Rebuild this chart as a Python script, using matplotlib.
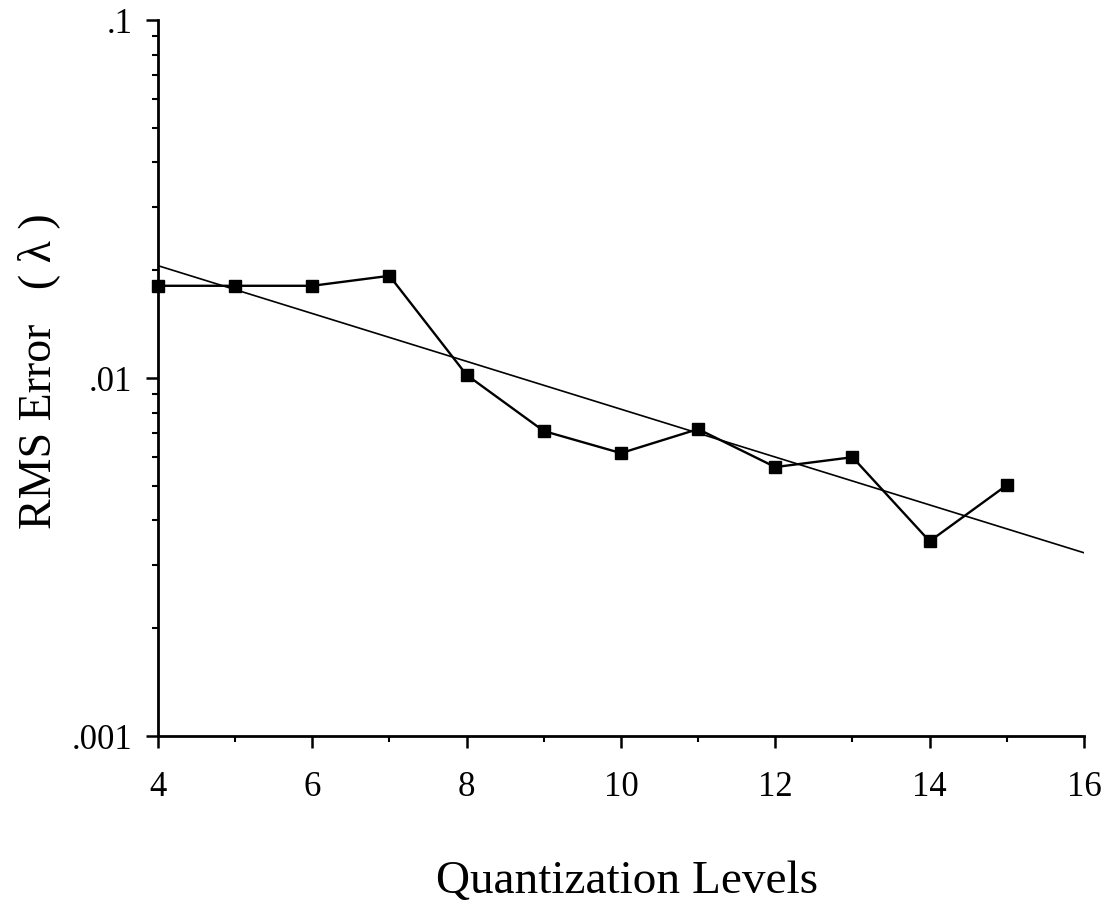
import matplotlib
matplotlib.use("Agg")
import matplotlib.pyplot as plt
from matplotlib.ticker import FixedLocator, LogLocator, NullFormatter, FixedFormatter

plt.rcParams['font.family'] = ['Liberation Serif', 'DejaVu Serif']

# Measured RMS error per number of quantization levels
levels = [4, 5, 6, 7, 8, 9, 10, 11, 12, 13, 14, 15]
rms_error = [0.0181, 0.0181, 0.0181, 0.0193, 0.0102, 0.00711, 0.00617,
             0.00720, 0.00564, 0.00601, 0.00350, 0.00502]

# Exponential trend line end points
fit_levels = [4, 16]
fit_error = [0.0206, 0.00325]

y_ticks = [0.001, 0.01, 0.1]
y_tick_labels = ['.001', '.01', '.1']
x_ticks = [4, 6, 8, 10, 12, 14, 16]

fig = plt.figure(figsize=(11.07, 9.19), dpi=100)
ax = fig.add_axes([0.1427, 0.1991, 0.8365, 0.7791])

ax.plot(fit_levels, fit_error, color='black', linewidth=1.2)
ax.plot(levels, rms_error, color='black', linewidth=1.7, marker='s',
        markersize=9, markerfacecolor='black', markeredgecolor='black',
        clip_on=False)

ax.set_yscale('log')
ax.set_xlim(4, 16)
ax.set_ylim(0.001, 0.1)

ax.yaxis.set_major_locator(FixedLocator(y_ticks))
ax.yaxis.set_major_formatter(FixedFormatter(y_tick_labels))
ax.yaxis.set_minor_locator(LogLocator(base=10, subs=range(2, 10)))
ax.yaxis.set_minor_formatter(NullFormatter())

ax.xaxis.set_major_locator(FixedLocator(x_ticks))
ax.xaxis.set_minor_locator(FixedLocator([5, 7, 9, 11, 13, 15]))

for side in ('top', 'right'):
    ax.spines[side].set_visible(False)
for side in ('left', 'bottom'):
    ax.spines[side].set_linewidth(2.0)

ax.tick_params(axis='both', which='major', direction='out', length=8.5,
               width=1.8, labelsize=25, colors='black')
ax.tick_params(axis='both', which='minor', direction='out', length=4,
               width=1.5)
ax.tick_params(axis='y', which='major', pad=10)
ax.tick_params(axis='x', which='major', pad=17)

ax.set_xlabel('Quantization Levels', fontsize=34)
ax.xaxis.set_label_coords(0.507, -0.203)
ax.xaxis.label.set_verticalalignment('center')

ax.set_ylabel('RMS Error   ( λ )', fontsize=33)
ax.yaxis.set_label_coords(-0.129, 0.509)
ax.yaxis.label.set_verticalalignment('center')

fig.savefig('out.png', dpi=100, facecolor='white')
